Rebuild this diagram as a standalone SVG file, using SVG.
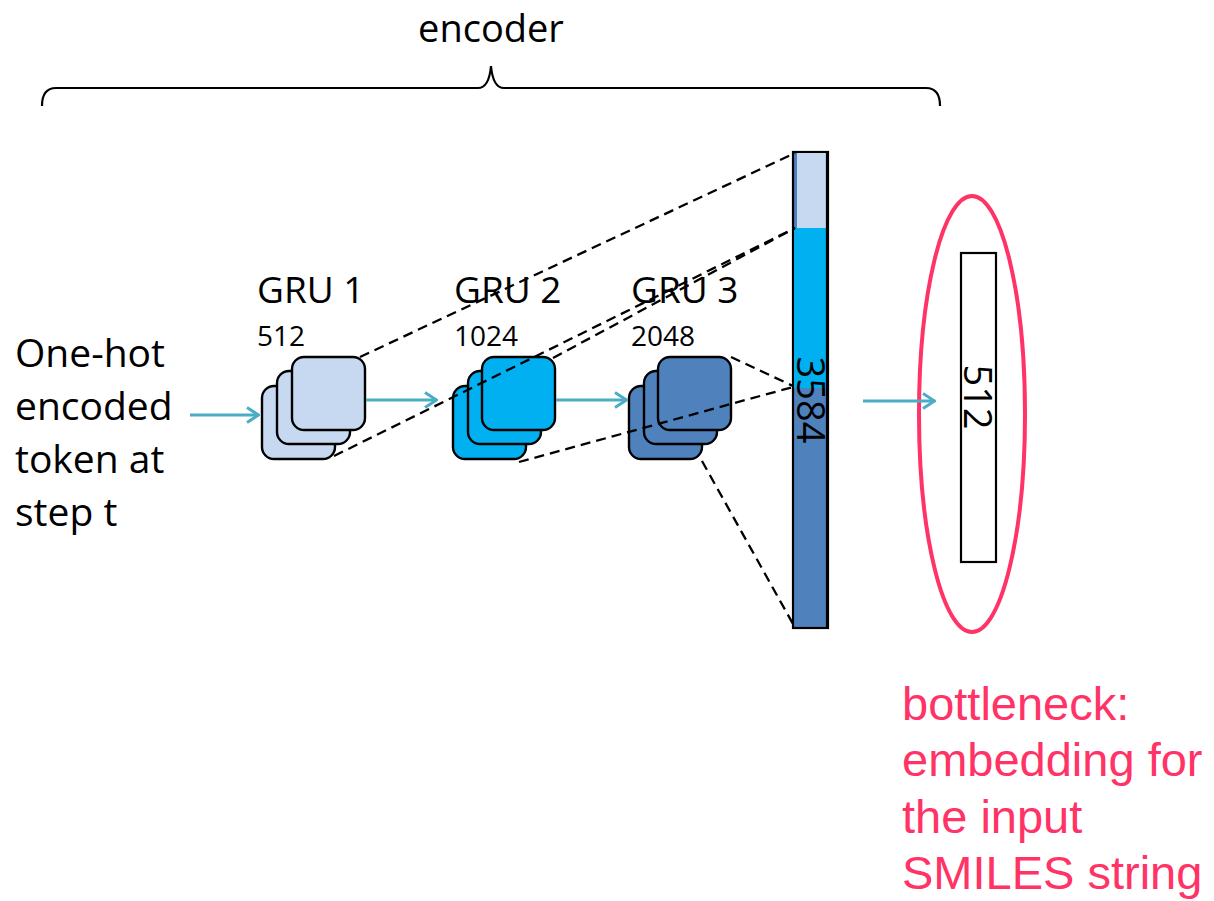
<svg xmlns="http://www.w3.org/2000/svg" width="1214" height="901" viewBox="0 0 1214 901">
  <style>
    .lbl { font-family: "Open Sans", "Liberation Sans", sans-serif; fill: #000; }
    .red { font-family: "Liberation Sans", Arial, sans-serif; fill: #FF3366; font-size: 47px; }
    .cell { stroke: #000; stroke-width: 2.4; }
    .g1 { fill: #C6D9F1; }
    .g2 { fill: #00B0F0; }
    .g3 { fill: #4F81BD; }
    .flow { stroke: #4BACC6; stroke-width: 3; fill: none; marker-end: url(#chev); }
    .dash { stroke: #000; stroke-width: 2.3; stroke-dasharray: 10 6; fill: none; }
  </style>
  <defs>
    <marker id="chev" viewBox="0 0 14 18" refX="13" refY="9" markerWidth="14" markerHeight="18" markerUnits="userSpaceOnUse" orient="auto">
      <path d="M1,1.5 L12.5,9 L1,16.5" fill="none" stroke="#4BACC6" stroke-width="3"/>
    </marker>
  </defs>
  <rect width="1214" height="901" fill="#fff"/>

  <!-- encoder brace -->
  <g id="encoder">
    <path d="M42,106 Q42,88 56,88 L478,88 Q489,88 491,66 Q493,88 504,88 L926,88 Q940,88 940,106" fill="none" stroke="#000" stroke-width="2.2"/>
    <text class="lbl" x="491" y="42" font-size="38" text-anchor="middle">encoder</text>
  </g>

  <!-- input label -->
  <g id="input">
    <text class="lbl" font-size="39" x="15">
      <tspan x="15" y="367">One-hot</tspan>
      <tspan x="15" y="420">encoded</tspan>
      <tspan x="15" y="473">token at</tspan>
      <tspan x="15" y="526">step t</tspan>
    </text>
  </g>

  <!-- GRU layer 1 -->
  <g id="gru1">
    <text class="lbl" x="257" y="303" font-size="37">GRU 1</text>
    <text class="lbl" x="257" y="346" font-size="28">512</text>
    <rect class="cell g1" x="262" y="386" width="73" height="73" rx="12"/>
    <rect class="cell g1" x="277" y="371" width="73" height="73" rx="12"/>
    <rect class="cell g1" x="292" y="357" width="73" height="73" rx="12"/>
  </g>

  <!-- GRU layer 2 -->
  <g id="gru2">
    <text class="lbl" x="454" y="303" font-size="37">GRU 2</text>
    <text class="lbl" x="454" y="346" font-size="28">1024</text>
    <rect class="cell g2" x="453" y="386" width="73" height="73" rx="12"/>
    <rect class="cell g2" x="468" y="371" width="73" height="73" rx="12"/>
    <rect class="cell g2" x="482" y="357" width="73" height="73" rx="12"/>
  </g>

  <!-- GRU layer 3 -->
  <g id="gru3">
    <text class="lbl" x="631" y="303" font-size="37">GRU 3</text>
    <text class="lbl" x="631" y="346" font-size="28">2048</text>
    <rect class="cell g3" x="629" y="386" width="73" height="73" rx="12"/>
    <rect class="cell g3" x="644" y="371" width="73" height="73" rx="12"/>
    <rect class="cell g3" x="658" y="357" width="73" height="73" rx="12"/>
  </g>

  <!-- concatenated hidden state -->
  <g id="concat">
    <rect x="793" y="152" width="35" height="476" fill="#4F81BD" stroke="#000" stroke-width="2.2"/>
    <rect x="797" y="153" width="30" height="75" fill="#C6D9F1"/>
    <rect x="794" y="228" width="33" height="160" fill="#00B0F0"/>
    <line x1="827" y1="152" x2="827" y2="628" stroke="#000" stroke-width="2.2"/>
    <text class="lbl" font-size="38" text-anchor="middle" transform="translate(797,400) rotate(90)">3584</text>
  </g>

  <!-- bottleneck -->
  <g id="bottleneck">
    <rect x="961" y="253" width="35" height="309" fill="#fff" stroke="#000" stroke-width="2.2"/>
    <text class="lbl" font-size="38" text-anchor="middle" transform="translate(964,397) rotate(90)">512</text>
    <ellipse cx="972" cy="414" rx="53" ry="218" fill="none" stroke="#FF3366" stroke-width="4"/>
  </g>

  <!-- caption -->
  <g id="caption">
    <text class="red" x="902">
      <tspan x="902" y="720">bottleneck:</tspan>
      <tspan x="902" y="776">embedding for</tspan>
      <tspan x="902" y="833">the input</tspan>
      <tspan x="902" y="889">SMILES string</tspan>
    </text>
  </g>

  <!-- connectors -->
  <g id="connectors">
    <line class="flow" x1="190" y1="415" x2="259" y2="415"/>
    <line class="flow" x1="366" y1="400" x2="437" y2="400"/>
    <line class="flow" x1="556" y1="400" x2="627" y2="400"/>
    <line class="flow" x1="863" y1="401" x2="935" y2="401"/>

    <line class="dash" x1="360" y1="357" x2="795" y2="153"/>
    <line class="dash" x1="334" y1="456" x2="795" y2="228"/>
    <line class="dash" x1="553" y1="358" x2="795" y2="228"/>
    <line class="dash" x1="519" y1="462" x2="793" y2="387"/>
    <line class="dash" x1="731" y1="357" x2="793" y2="386"/>
    <line class="dash" x1="702" y1="461" x2="793" y2="624"/>
  </g>
</svg>
